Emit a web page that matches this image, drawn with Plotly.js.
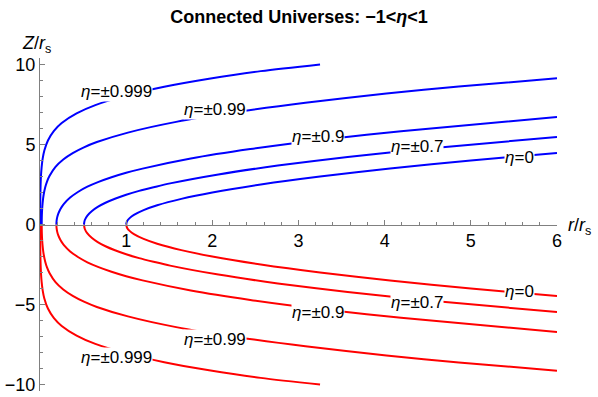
<!DOCTYPE html>
<html>
<head>
<meta charset="utf-8">
<script src="https://cdn.plot.ly/plotly-3.0.1.min.js"></script>
<style>
  html, body { margin: 0; padding: 0; background: #fff; }
  #chart { width: 598px; height: 397px; }
</style>
</head>
<body>
<div id="chart"></div>
<script>
// upper halves Z/r_s vs r/r_s; lower halves are the mirror image
const r_eta0 = [1, 1.01, 1.04, 1.09, 1.2025, 1.36, 1.64, 2.0, 2.5625, 3.25, 4.0625, 5.0, 6.0];
const z_eta0 = [0, 0.2, 0.4, 0.6, 0.9, 1.2, 1.6, 2.0, 2.5, 3.0, 3.5, 4.0, 4.47];

const r_eta07 = [0.51, 0.52, 0.55, 0.60, 0.67, 0.76, 0.87, 1.0, 1.15, 1.32, 1.51, 2.07, 2.76, 3.57, 4.51, 6.0];
const z_eta07 = [0, 0.28, 0.56, 0.83, 1.10, 1.36, 1.61, 1.86, 2.10, 2.33, 2.57, 3.13, 3.68, 4.22, 4.75, 5.47];

const r_eta09 = [0.19, 0.1925, 0.2, 0.2125, 0.23, 0.2525, 0.28, 0.35, 0.44, 0.55, 0.68, 0.83, 1.0, 1.19, 1.75, 2.44, 3.25, 4.19, 6.0];
const z_eta09 = [0, 0.23, 0.46, 0.68, 0.89, 1.10, 1.30, 1.68, 2.03, 2.36, 2.66, 2.95, 3.23, 3.49, 4.12, 4.71, 5.28, 5.83, 6.72];

const r_eta099 = [0.0199, 0.0203, 0.0215, 0.0235, 0.0263, 0.0299, 0.0355, 0.0424, 0.0599, 0.0824, 0.1099, 0.1799, 0.2699, 0.3799, 0.5099, 0.6599, 1.02, 1.58, 2.27, 3.08, 4.02, 4.86, 6.0];
const z_eta099 = [0, 0.28, 0.56, 0.83, 1.08, 1.32, 1.60, 1.86, 2.31, 2.70, 3.03, 3.60, 4.06, 4.46, 4.82, 5.15, 5.74, 6.41, 7.02, 7.61, 8.18, 8.62, 9.13];

const r_eta0999 = [0.002, 0.0021, 0.0024, 0.0029, 0.004, 0.0056, 0.0084, 0.012, 0.0189, 0.0309, 0.0504, 0.092, 0.162, 0.252, 0.4245, 0.642, 1.002, 1.442, 1.962, 2.562, 3.25];
const z_eta0999 = [0, 0.44, 0.87, 1.26, 1.77, 2.21, 2.69, 3.09, 3.59, 4.11, 4.62, 5.25, 5.85, 6.34, 6.94, 7.46, 8.05, 8.60, 9.10, 9.58, 10.0];

const curveR = [r_eta0, r_eta07, r_eta09, r_eta099, r_eta0999];
const curveZ = [z_eta0, z_eta07, z_eta09, z_eta099, z_eta0999];

// label texts and where they sit (r, |Z|)
const labelText = ['<i>η</i>=0', '<i>η</i>=±0.7', '<i>η</i>=±0.9', '<i>η</i>=±0.99', '<i>η</i>=±0.999'];
const labelR = [5.57, 4.37, 3.23, 2.03, 0.89];
const labelZ = [4.17, 4.9, 5.48, 7.2, 8.28];

const FONT = 'Liberation Sans, Arial, sans-serif';
const AXIS = '#808080';

const traces = [];
curveR.forEach((r, i) => {
  traces.push({
    x: r, y: curveZ[i].map(v => -v),
    type: 'scatter', mode: 'lines',
    line: { color: '#ff0000', width: 2, shape: 'spline', smoothing: 0.8 },
    hoverinfo: 'skip', showlegend: false,
  });
  traces.push({
    x: r, y: curveZ[i],
    type: 'scatter', mode: 'lines',
    line: { color: '#0000ff', width: 2, shape: 'spline', smoothing: 0.8 },
    hoverinfo: 'skip', showlegend: false,
  });
});

const annotations = [];
labelText.forEach((t, i) => {
  [1, -1].forEach(sgn => {
    annotations.push({
      x: labelR[i], y: sgn * labelZ[i], xref: 'x', yref: 'y',
      text: t, showarrow: false, bgcolor: '#fff', borderpad: 0,
      font: { family: FONT, size: 17, color: '#000' },
    });
  });
});
// axis titles sit outside the data range, so place them in paper coords
annotations.push({
  x: -0.006, y: 1.042, xref: 'paper', yref: 'paper',
  xanchor: 'center', yanchor: 'middle', showarrow: false,
  text: '<i>Z</i>/<i>r</i><sub>s</sub>',
  font: { family: FONT, size: 18, color: '#000' },
});
annotations.push({
  x: 1.017, y: 0.495, xref: 'paper', yref: 'paper',
  xanchor: 'left', yanchor: 'middle', showarrow: false,
  text: '<i>r</i>/<i>r</i><sub>s</sub>',
  font: { family: FONT, size: 18, color: '#000' },
});

Plotly.newPlot('chart', traces, {
  width: 598, height: 397,
  margin: { l: 40, r: 41, t: 58, b: 6 },
  paper_bgcolor: '#fff', plot_bgcolor: '#fff',
  font: { family: FONT, size: 18, color: '#000' },
  title: {
    text: '<b>Connected Universes: −1&lt;<i>η</i>&lt;1</b>',
    font: { family: FONT, size: 18, color: '#000' },
    x: 0.5, xanchor: 'center', y: 0.957, yanchor: 'middle',
  },
  xaxis: {
    range: [0, 6], anchor: 'free', position: 0.5,
    showline: true, linecolor: AXIS, linewidth: 1,
    ticks: 'inside', ticklen: 5, tickcolor: AXIS,
    tickvals: [1, 2, 3, 4, 5, 6],
    minor: { tickmode: 'linear', tick0: 0, dtick: 0.2, ticks: 'inside', ticklen: 3, tickcolor: AXIS },
    showgrid: false, zeroline: false,
    tickfont: { family: FONT, size: 18, color: '#000' },
  },
  yaxis: {
    range: [-10.4, 10.4],
    showline: true, linecolor: AXIS, linewidth: 1,
    ticks: 'inside', ticklen: 5, tickcolor: AXIS,
    tickvals: [-10, -5, 0, 5, 10],
    minor: { tickmode: 'linear', tick0: 0, dtick: 1, ticks: 'inside', ticklen: 3, tickcolor: AXIS },
    showgrid: false, zeroline: false,
    tickfont: { family: FONT, size: 18, color: '#000' },
  },
  annotations,
}, { displayModeBar: false, staticPlot: true });
</script>
</body>
</html>
